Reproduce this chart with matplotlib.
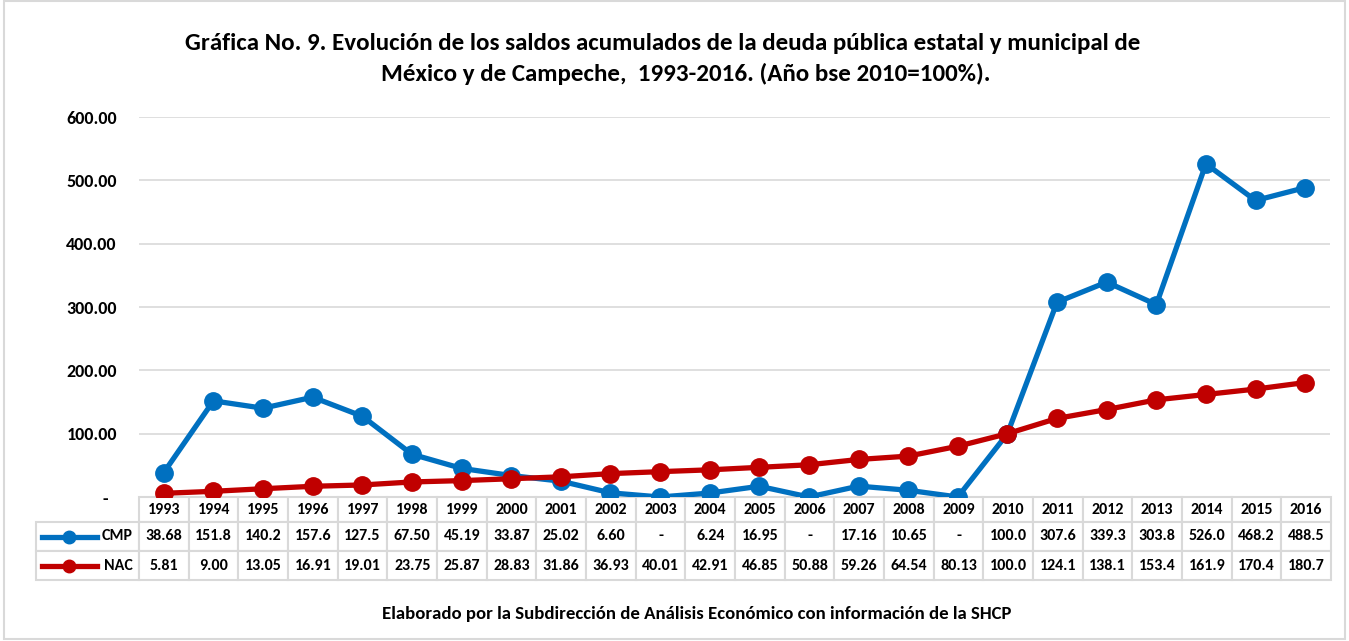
import numpy as np
import matplotlib
matplotlib.use("Agg")
import matplotlib.pyplot as plt
from matplotlib.table import Table
from matplotlib.lines import Line2D
from matplotlib.patches import Rectangle

plt.rcParams['font.family'] = ['Carlito', 'DejaVu Sans']

# datos
years = [str(y) for y in range(1993, 2017)]
cmp_vals = [38.68, 151.8, 140.2, 157.6, 127.5, 67.50, 45.19, 33.87, 25.02, 6.60,
            0.0, 6.24, 16.95, 0.0, 17.16, 10.65, 0.0, 100.0, 307.6, 339.3,
            303.8, 526.0, 468.2, 488.5]
cmp_txt = ['38.68', '151.8', '140.2', '157.6', '127.5', '67.50', '45.19', '33.87',
           '25.02', '6.60', '-', '6.24', '16.95', '-', '17.16', '10.65', '-',
           '100.0', '307.6', '339.3', '303.8', '526.0', '468.2', '488.5']
nac_vals = [5.81, 9.00, 13.05, 16.91, 19.01, 23.75, 25.87, 28.83, 31.86, 36.93,
            40.01, 42.91, 46.85, 50.88, 59.26, 64.54, 80.13, 100.0, 124.1, 138.1,
            153.4, 161.9, 170.4, 180.7]
nac_txt = ['5.81', '9.00', '13.05', '16.91', '19.01', '23.75', '25.87', '28.83',
           '31.86', '36.93', '40.01', '42.91', '46.85', '50.88', '59.26', '64.54',
           '80.13', '100.0', '124.1', '138.1', '153.4', '161.9', '170.4', '180.7']
series_names = ['CMP', 'NAC']
colors = ['#0070C0', '#C00000']
yticks = [0, 100, 200, 300, 400, 500, 600]

W, H = 1349, 641
fig = plt.figure(figsize=(W / 100, H / 100), dpi=100)

def px(x, y):
    return x / W, 1 - y / H

ax = fig.add_axes([139 / W, 1 - 497 / H, (1330 - 139) / W, (497 - 117) / H])
x = np.arange(len(years))
ax.plot(x, cmp_vals, color=colors[0], lw=3.8, marker='o', ms=12.5, zorder=3)
ax.plot(x, nac_vals, color=colors[1], lw=3.8, marker='o', ms=12.5, zorder=4)
ax.set_xlim(-0.5, len(years) - 0.5)
ax.set_ylim(0, 600)
ax.set_yticks(yticks)
ax.set_yticklabels(['-  ' if v == 0 else f'{v:.2f}' for v in yticks],
                   fontsize=13, fontweight='bold')
ax.set_xticks([])
ax.tick_params(axis='y', length=0, pad=16)
ax.grid(axis='y', color='#D9D9D9', lw=1.2)
ax.set_axisbelow(True)
for s in ax.spines.values():
    s.set_visible(False)

# tabla de datos (columna 0 = etiquetas)
tb = Table(ax, bbox=[(36 - 139) / 1191, -(580 - 497) / 380, (1331 - 36) / 1191, (580 - 497) / 380])
lw_ = 103 / 49.6
hh, rh = 25, 29
corner = tb.add_cell(0, 0, lw_, hh, text='')
corner.visible_edges = ''
for j, yr in enumerate(years):
    tb.add_cell(0, j + 1, 1.0, hh, text=yr, loc='center')
for i, row in enumerate([cmp_txt, nac_txt]):
    tb.add_cell(i + 1, 0, lw_, rh, text=series_names[i], loc='right')
    for j, t in enumerate(row):
        tb.add_cell(i + 1, j + 1, 1.0, rh, text=t, loc='center')
tb.auto_set_font_size(False)
tb.set_fontsize(11.5)
for key, cell in tb.get_celld().items():
    cell.set_edgecolor('#D9D9D9')
    cell.set_linewidth(1.5)
    cell.get_text().set_fontweight('bold')
    cell.PAD = 0.06
ax.add_table(tb)

# claves de la leyenda en la tabla
for i, c in enumerate(colors):
    yk = 537 + i * 28.5
    x0, y0 = px(42, yk)
    x1, _ = px(97, yk)
    xm, _ = px(69, yk)
    fig.add_artist(Line2D([x0, x1], [y0, y0], color=c, lw=3.8, transform=fig.transFigure))
    fig.add_artist(Line2D([xm], [y0], color=c, marker='o', ms=9, transform=fig.transFigure))

fig.text(*px(663, 43), 'Gráfica No. 9. Evolución de los saldos acumulados de la deuda pública estatal y municipal de',
         ha='center', va='center', fontsize=18, fontweight='bold')
fig.text(*px(686, 74), 'México y de Campeche,  1993-2016. (Año bse 2010=100%).',
         ha='center', va='center', fontsize=18, fontweight='bold')
fig.text(*px(697, 614), 'Elaborado por la Subdirección de Análisis Económico con información de la SHCP',
         ha='center', va='center', fontsize=13.5, fontweight='bold')

fig.add_artist(Rectangle(px(4, 639), (1345 - 4) / W, (639 - 1) / H, fill=False,
                         edgecolor='#D9D9D9', lw=1.5, transform=fig.transFigure))

fig.savefig('out.png', dpi=100)
